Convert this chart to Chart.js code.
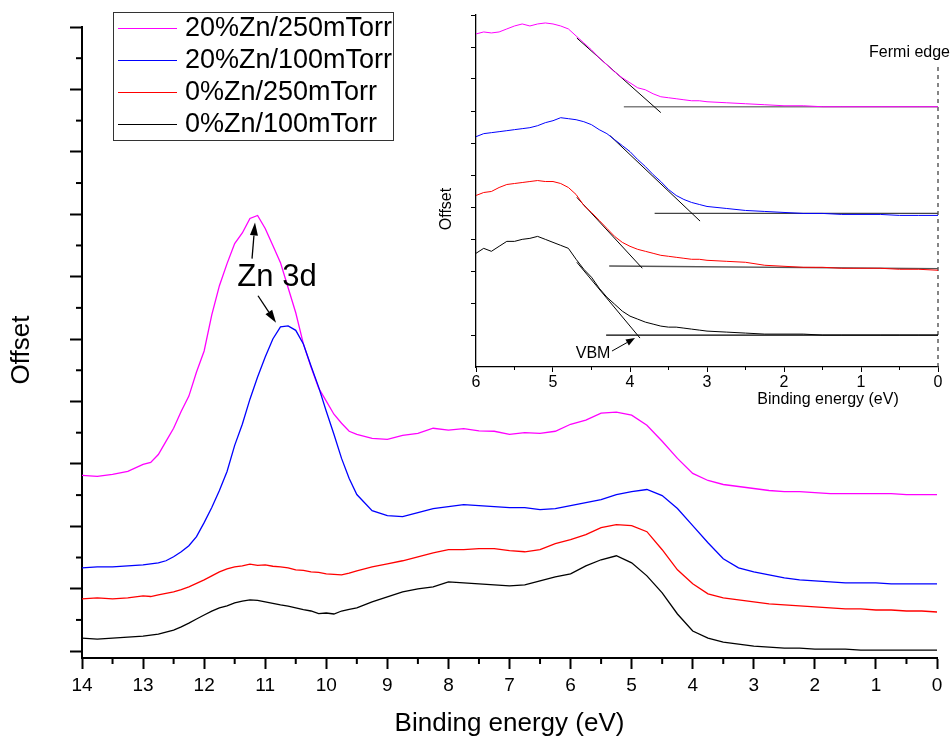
<!DOCTYPE html>
<html>
<head>
<meta charset="utf-8">
<script src="https://cdn.jsdelivr.net/npm/chart.js@4.4.1/dist/chart.umd.min.js"></script>
<style>
  html, body { margin: 0; padding: 0; background: #fff; }
  #contenedor { position: relative; width: 952px; height: 742px; }
  #principal { position: absolute; left: 0; top: 0; }
  #recuadro { position: absolute; left: 430px; top: 0; }
</style>
</head>
<body>
<div id="contenedor">
  <canvas id="principal" width="952" height="742"></canvas>
  <canvas id="recuadro" width="522" height="420"></canvas>
</div>
<script>
// Energías de enlace (eV) del espectro completo (más denso en el pico Zn 3d)
const energia = [14, 13.75, 13.5, 13.25, 13, 12.875, 12.75, 12.625, 12.5, 12.375, 12.25, 12.125, 12, 11.875, 11.75, 11.625,
  11.5, 11.375, 11.25, 11.125, 11, 10.875, 10.75, 10.625, 10.5, 10.375, 10.25, 10.125, 10, 9.875, 9.75, 9.625, 9.5,
  9.25, 9, 8.75, 8.5, 8.25, 8, 7.75, 7.5, 7.25, 7, 6.75, 6.5, 6.25, 6, 5.75, 5.5, 5.25,
  5, 4.75, 4.5, 4.25, 4, 3.75, 3.5, 3.25, 3, 2.75, 2.5, 2.25, 2, 1.75, 1.5, 1.25, 1, 0.75, 0.5, 0.25, 0];

// Intensidad (desplazada) de cada muestra
const zn20_250 = [2.815, 2.800, 2.831, 2.879, 2.992, 3.024, 3.150, 3.362, 3.571, 3.844, 4.086, 4.472, 4.809, 5.388, 5.855, 6.209,
  6.531, 6.700, 6.933, 6.980, 6.772, 6.498, 6.225, 5.823, 5.421, 4.922, 4.552, 4.214, 4.005, 3.796, 3.651, 3.523, 3.474,
  3.410, 3.394, 3.458, 3.490, 3.571, 3.540, 3.565, 3.530, 3.523, 3.474, 3.500, 3.490, 3.523, 3.635, 3.700, 3.812, 3.828,
  3.780, 3.619, 3.362, 3.088, 2.847, 2.734, 2.670, 2.638, 2.606, 2.574, 2.557, 2.557, 2.541, 2.525, 2.525, 2.525,
  2.525, 2.525, 2.509, 2.509, 2.509];
const zn20_100 = [1.335, 1.351, 1.351, 1.367, 1.383, 1.399, 1.415, 1.448, 1.512, 1.592, 1.689, 1.834, 2.059, 2.300, 2.574, 2.879,
  3.297, 3.635, 4.037, 4.391, 4.713, 5.002, 5.195, 5.211, 5.140, 4.922, 4.568, 4.230, 3.844, 3.474, 3.088, 2.767, 2.509,
  2.252, 2.171, 2.155, 2.220, 2.284, 2.316, 2.348, 2.332, 2.316, 2.300, 2.300, 2.268, 2.284, 2.332, 2.381, 2.429, 2.509,
  2.557, 2.590, 2.493, 2.284, 2.011, 1.737, 1.480, 1.335, 1.271, 1.222, 1.174, 1.142, 1.126, 1.110, 1.094, 1.094,
  1.094, 1.078, 1.078, 1.078, 1.078];
const zn0_250 = [0.836, 0.853, 0.836, 0.853, 0.885, 0.875, 0.901, 0.925, 0.949, 0.985, 1.029, 1.085, 1.142, 1.206, 1.271, 1.319,
  1.351, 1.367, 1.395, 1.375, 1.383, 1.360, 1.351, 1.335, 1.303, 1.295, 1.271, 1.262, 1.239, 1.230, 1.222, 1.250, 1.287,
  1.351, 1.399, 1.448, 1.512, 1.576, 1.625, 1.625, 1.641, 1.641, 1.609, 1.592, 1.625, 1.721, 1.785, 1.866, 1.978, 2.027,
  2.011, 1.914, 1.625, 1.303, 1.078, 0.917, 0.853, 0.820, 0.788, 0.756, 0.740, 0.724, 0.708, 0.692, 0.676, 0.676,
  0.659, 0.659, 0.643, 0.643, 0.627];
const zn0_100 = [0.209, 0.193, 0.209, 0.225, 0.241, 0.257, 0.273, 0.306, 0.338, 0.390, 0.450, 0.515, 0.579, 0.640, 0.692, 0.725,
  0.772, 0.800, 0.820, 0.812, 0.788, 0.765, 0.740, 0.720, 0.692, 0.665, 0.643, 0.600, 0.611, 0.595, 0.643, 0.670, 0.692,
  0.788, 0.869, 0.949, 0.997, 1.029, 1.110, 1.094, 1.078, 1.062, 1.046, 1.062, 1.126, 1.190, 1.239, 1.367, 1.464, 1.528,
  1.415, 1.206, 0.933, 0.595, 0.322, 0.209, 0.145, 0.113, 0.080, 0.064, 0.048, 0.048, 0.032, 0.032, 0.032, 0.016,
  0.016, 0.016, 0.016, 0.016, 0.016];

// Zona de la banda de valencia (recuadro)
const energiaVB = [6, 5.9, 5.8, 5.7, 5.6, 5.5, 5.4, 5.3, 5.2, 5.1, 5, 4.9, 4.8, 4.7, 4.6, 4.5, 4.4, 4.3, 4.2, 4.1,
  4, 3.9, 3.8, 3.7, 3.6, 3.5, 3.4, 3.3, 3.2, 3.1, 3, 2.75, 2.5, 2.25, 2, 1.75, 1.5, 1.25, 1, 0.75, 0.5, 0.25, 0];
const vb20_250 = [10.408, 10.470, 10.439, 10.470, 10.564, 10.657, 10.720, 10.657, 10.720, 10.751, 10.720, 10.657, 10.564, 10.346,
  10.128, 9.910, 9.660, 9.442, 9.224, 9.037, 8.881, 8.725, 8.663, 8.538, 8.445, 8.414, 8.383, 8.351, 8.320, 8.320,
  8.289, 8.258, 8.227, 8.196, 8.164, 8.164, 8.133, 8.133, 8.133, 8.133, 8.133, 8.133, 8.133];
const vb20_100 = [7.198, 7.292, 7.323, 7.354, 7.385, 7.417, 7.448, 7.479, 7.541, 7.635, 7.697, 7.791, 7.760, 7.728,
  7.666, 7.572, 7.417, 7.292, 7.105, 6.918, 6.731, 6.482, 6.264, 6.014, 5.796, 5.547, 5.360, 5.235, 5.142, 5.079,
  5.017, 4.955, 4.892, 4.861, 4.830, 4.799, 4.799, 4.768, 4.768, 4.768, 4.737, 4.737, 4.737];
const vb0_250 = [5.360, 5.453, 5.485, 5.609, 5.703, 5.734, 5.765, 5.796, 5.827, 5.796, 5.796, 5.734, 5.609, 5.391,
  5.048, 4.830, 4.581, 4.332, 4.082, 3.895, 3.771, 3.677, 3.615, 3.553, 3.490, 3.459, 3.428, 3.397, 3.366, 3.366,
  3.334, 3.303, 3.272, 3.179, 3.147, 3.116, 3.116, 3.085, 3.085, 3.085, 3.054, 3.054, 3.023];
const vb0_100 = [3.553, 3.708, 3.615, 3.771, 3.926, 3.926, 3.989, 4.020, 4.082, 3.989, 3.895, 3.802, 3.708, 3.366,
  3.054, 2.805, 2.462, 2.181, 1.963, 1.745, 1.589, 1.496, 1.402, 1.340, 1.278, 1.246, 1.246, 1.215, 1.184, 1.153,
  1.122, 1.091, 1.060, 1.028, 1.028, 1.028, 0.997, 0.997, 0.997, 0.997, 0.997, 0.997, 0.997];

// Rectas de extrapolación del VBM (tangente y línea base) [x, y]
const tangente20_250 = [[4.69, 10.28], [3.60, 7.95]];
const tangente20_100 = [[4.26, 7.23], [3.09, 4.56]];
const tangente0_250 = [[4.69, 5.30], [3.84, 3.085]];
const tangente0_100 = [[4.69, 3.272], [3.87, 0.904]];
const base20_250 = [[4.08, 8.133], [0, 8.133]];
const base20_100 = [[3.68, 4.80], [0, 4.80]];
const base0_250 = [[4.27, 3.156], [0, 3.075]];
const base0_100 = [[4.31, 0.997], [0, 0.997]];
const bordeFermi = [[0, 0], [0, 9.5]];

// Marcas de los ejes
const marcasX = [14, 13, 12, 11, 10, 9, 8, 7, 6, 5, 4, 3, 2, 1, 0];
const marcasXMenores = [13.5, 12.5, 11.5, 10.5, 9.5, 8.5, 7.5, 6.5, 5.5, 4.5, 3.5, 2.5, 1.5, 0.5];
const marcasY = [0, 1, 2, 3, 4, 5, 6, 7, 8, 9, 10];
const marcasYMenores = [0.5, 1.5, 2.5, 3.5, 4.5, 5.5, 6.5, 7.5, 8.5, 9.5];
const marcasXVB = [6, 5, 4, 3, 2, 1, 0];
const marcasXVBMenores = [5.5, 4.5, 3.5, 2.5, 1.5, 0.5];
const marcasYVB = [1, 2, 3, 4, 5, 6, 7, 8, 9, 10, 11];

const etiquetas = ['20%Zn/250mTorr', '20%Zn/100mTorr', '0%Zn/250mTorr', '0%Zn/100mTorr'];
const colores = ['#ff00ff', '#0000ff', '#ff0000', '#000000'];

const FUENTE = '"Liberation Sans", Arial, Helvetica, sans-serif';

function puntos(xs, ys) {
  return xs.map((x, i) => ({ x: x, y: ys[i] }));
}
function par(p) {
  return p.map(v => ({ x: v[0], y: v[1] }));
}

// Flecha con punta rellena
function flecha(ctx, x1, y1, x2, y2, largo, ancho) {
  const ang = Math.atan2(y2 - y1, x2 - x1);
  const bx = x2 - largo * Math.cos(ang), by = y2 - largo * Math.sin(ang);
  ctx.beginPath();
  ctx.moveTo(x1, y1);
  ctx.lineTo(bx, by);
  ctx.stroke();
  ctx.beginPath();
  ctx.moveTo(x2, y2);
  ctx.lineTo(bx + ancho * Math.sin(ang), by - ancho * Math.cos(ang));
  ctx.lineTo(bx - ancho * Math.sin(ang), by + ancho * Math.cos(ang));
  ctx.closePath();
  ctx.fill();
}

// Plugin: marcas menores, textos, flechas, títulos y leyenda
const decoracion = {
  id: 'decoracion',
  afterDraw(chart, args, o) {
    const ctx = chart.ctx;
    const sx = chart.scales.x, sy = chart.scales.y;
    ctx.save();
    ctx.strokeStyle = '#000';
    ctx.fillStyle = '#000';
    ctx.lineWidth = o.grosorMarca;
    (o.menoresX || []).forEach(v => {
      const px = sx.getPixelForValue(v);
      ctx.beginPath();
      ctx.moveTo(px, sx.top);
      ctx.lineTo(px, sx.top + o.largoMenor);
      ctx.stroke();
    });
    (o.menoresY || []).forEach(v => {
      const py = sy.getPixelForValue(v);
      ctx.beginPath();
      ctx.moveTo(sy.right, py);
      ctx.lineTo(sy.right - o.largoMenor, py);
      ctx.stroke();
    });

    ctx.textAlign = 'center';
    ctx.textBaseline = 'middle';
    (o.textos || []).forEach(t => {
      ctx.font = t.fuente;
      ctx.fillText(t.texto, sx.getPixelForValue(t.x), sy.getPixelForValue(t.y));
    });

    ctx.lineWidth = o.grosorFlecha;
    (o.flechas || []).forEach(f => {
      flecha(ctx, sx.getPixelForValue(f[0]), sy.getPixelForValue(f[1]),
        sx.getPixelForValue(f[2]), sy.getPixelForValue(f[3]), o.puntaLargo, o.puntaAncho);
    });

    (o.titulos || []).forEach(t => {
      ctx.save();
      ctx.font = t.fuente;
      ctx.translate(t.px, t.py);
      if (t.girar) ctx.rotate(-Math.PI / 2);
      ctx.fillText(t.texto, 0, 0);
      ctx.restore();
    });

    if (o.leyenda) {
      const L = o.leyenda;
      ctx.lineWidth = 1;
      ctx.strokeStyle = '#333';
      ctx.strokeRect(L.x + 0.5, L.y + 0.5, L.ancho, L.alto);
      ctx.font = L.fuente;
      ctx.textAlign = 'left';
      etiquetas.forEach((et, i) => {
        const yy = L.y + L.primera + i * L.paso;
        ctx.strokeStyle = colores[i];
        ctx.beginPath();
        ctx.moveTo(L.x + 5, yy + 0.5);
        ctx.lineTo(L.x + 64, yy + 0.5);
        ctx.stroke();
        ctx.fillStyle = '#000';
        ctx.fillText(et, L.x + 72, yy + 1);
      });
    }
    ctx.restore();
  }
};

// Gráfico principal
const seriesPrincipal = [zn20_250, zn20_100, zn0_250, zn0_100];
new Chart(document.getElementById('principal'), {
  type: 'line',
  data: {
    datasets: seriesPrincipal.map((s, i) => ({
      label: etiquetas[i],
      data: puntos(energia, s),
      borderColor: colores[i],
      borderWidth: 1.3,
      pointRadius: 0,
      order: i === 1 ? 0 : i + 1
    }))
  },
  options: {
    responsive: false,
    animation: false,
    layout: { padding: { left: 70, right: 15, top: 27, bottom: 0 } },
    plugins: {
      legend: { display: false },
      tooltip: { enabled: false },
      decoracion: {
        grosorMarca: 2, largoMenor: 6,
        menoresX: marcasXMenores, menoresY: marcasYMenores,
        textos: [{ texto: 'Zn 3d', x: 10.807, y: 5.984, fuente: '31px ' + FUENTE }],
        grosorFlecha: 1.3, puntaLargo: 13, puntaAncho: 4,
        flechas: [[11.216, 6.289, 11.167, 6.868], [11.118, 5.694, 10.823, 5.260]],
        titulos: [{ texto: 'Offset', px: 22, py: 350, girar: true, fuente: '26px ' + FUENTE }],
        leyenda: { x: 113, y: 12, ancho: 280, alto: 128, primera: 16, paso: 32, fuente: '27px ' + FUENTE }
      }
    },
    scales: {
      x: {
        type: 'linear', min: 0, max: 14, reverse: true,
        afterBuildTicks: s => { s.ticks = marcasX.map(v => ({ value: v })); },
        ticks: { autoSkip: false, maxRotation: 0, color: '#000', padding: 5,
          font: { family: FUENTE, size: 19 }, callback: v => String(v) },
        grid: { drawOnChartArea: false, drawTicks: true, tickLength: 11, tickWidth: 2, tickColor: '#000' },
        border: { display: true, color: '#000', width: 2 },
        title: { display: true, text: 'Binding energy (eV)', color: '#000',
          font: { family: FUENTE, size: 26 }, padding: { top: 6, bottom: 3 } }
      },
      y: {
        type: 'linear', min: -0.11, max: 10,
        afterBuildTicks: s => { s.ticks = marcasY.map(v => ({ value: v })); },
        ticks: { display: false },
        grid: { drawOnChartArea: false, drawTicks: true, tickLength: 12, tickWidth: 2, tickColor: '#000' },
        border: { display: true, color: '#000', width: 2 }
      }
    }
  },
  plugins: [decoracion]
});

// Recuadro: borde de la banda de valencia
const seriesVB = [vb20_250, vb20_100, vb0_250, vb0_100];
const rectas = [
  { d: tangente20_250, c: '#000', w: 1 }, { d: tangente20_100, c: '#000', w: 1 },
  { d: tangente0_250, c: '#000', w: 1 }, { d: tangente0_100, c: '#000', w: 1 },
  { d: base20_250, c: '#808080', w: 1.5 }, { d: base20_100, c: '#444', w: 1.3 },
  { d: base0_250, c: '#555', w: 1.3 }, { d: base0_100, c: '#000', w: 1.2 }
];
new Chart(document.getElementById('recuadro'), {
  type: 'line',
  data: {
    datasets: seriesVB.map((s, i) => ({
      data: puntos(energiaVB, s), borderColor: colores[i], borderWidth: 1, pointRadius: 0
    })).concat(rectas.map(r => ({
      data: par(r.d), borderColor: r.c, borderWidth: r.w, pointRadius: 0
    }))).concat([{
      data: par(bordeFermi), borderColor: '#444', borderWidth: 1.3, borderDash: [4, 4], pointRadius: 0, clip: false
    }])
  },
  options: {
    responsive: false,
    animation: false,
    layout: { padding: { left: 41, right: 14, top: 15, bottom: 26.8 } },
    plugins: {
      legend: { display: false },
      tooltip: { enabled: false },
      decoracion: {
        grosorMarca: 1, largoMenor: 3,
        menoresX: marcasXVBMenores,
        textos: [
          { texto: 'Fermi edge', x: 0.37, y: 9.816, fuente: '16px ' + FUENTE },
          { texto: 'VBM', x: 4.48, y: 0.405, fuente: '16px ' + FUENTE }
        ],
        grosorFlecha: 1, puntaLargo: 9, puntaAncho: 3.5,
        flechas: [[4.234, 0.499, 3.935, 0.904]],
        titulos: [
          { texto: 'Offset', px: 17, py: 209, girar: true, fuente: '16px ' + FUENTE },
          { texto: 'Binding energy (eV)', px: 398, py: 400, girar: false, fuente: '16px ' + FUENTE }
        ]
      }
    },
    scales: {
      x: {
        type: 'linear', min: 0, max: 6, reverse: true,
        afterBuildTicks: s => { s.ticks = marcasXVB.map(v => ({ value: v })); },
        ticks: { autoSkip: false, maxRotation: 0, color: '#000', padding: 1,
          font: { family: FUENTE, size: 16 }, callback: v => String(v) },
        grid: { drawOnChartArea: false, drawTicks: true, tickLength: 5, tickWidth: 1, tickColor: '#000' },
        border: { display: true, color: '#000', width: 1.3 }
      },
      y: {
        type: 'linear', min: 0, max: 11,
        afterBuildTicks: s => { s.ticks = marcasYVB.map(v => ({ value: v })); },
        ticks: { display: false },
        grid: { drawOnChartArea: false, drawTicks: true, tickLength: 5, tickWidth: 1, tickColor: '#000' },
        border: { display: true, color: '#000', width: 1.3 }
      }
    }
  },
  plugins: [decoracion]
});
</script>
</body>
</html>
